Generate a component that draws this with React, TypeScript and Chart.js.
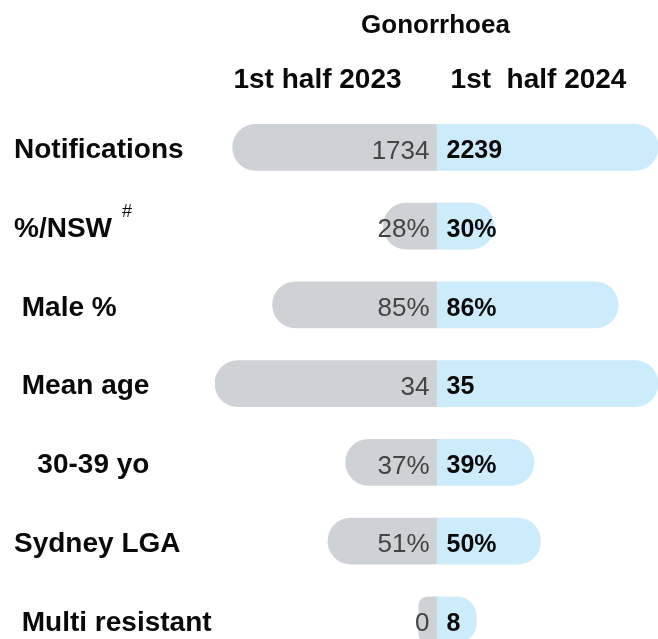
import React, { useEffect, useRef } from 'react';
import { Chart, registerables } from 'chart.js';

Chart.register(...registerables);

// ---- data ----
const chartTitle = 'Gonorrhoea';
const periods = ['1st half 2023', '1st  half 2024'];
const categories = [
  'Notifications',
  '%/NSW',
  ' Male %',
  ' Mean age',
  '   30-39 yo',
  'Sydney LGA',
  ' Multi resistant',
];
const values2023 = [1734, 28, 85, 34, 37, 51, 0];
const values2024 = [2239, 30, 86, 35, 39, 50, 8];
const units = ['', '%', '%', '', '%', '%', ''];
// relative bar lengths as drawn in the infographic (percent of each half)
const barLength2023 = [92, 24, 74, 100, 41, 49, 8];
const barLength2024 = [100, 26, 82, 100, 44, 47, 18];
const footnoteRow = 1;
const footnoteMark = '#';

// ---- styles ----
const FONT = '"Liberation Sans", Arial, sans-serif';
const GRAY = 'rgb(206,210,214)';
const BLUE = 'rgb(204,236,252)';
const LABEL_SIZE = 28;

const labelsPlugin = {
  id: 'valueLabels',
  afterDatasetsDraw(chart: any) {
    const ctx = chart.ctx;
    ctx.save();
    ctx.textBaseline = 'middle';
    const m0 = chart.getDatasetMeta(0);
    const m1 = chart.getDatasetMeta(1);
    m0.data.forEach((el: any, i: number) => {
      const p = el.getProps(['x', 'y', 'base'], true);
      ctx.font = `normal 26px ${FONT}`;
      ctx.fillStyle = '#444444';
      ctx.textAlign = 'right';
      ctx.fillText(`${values2023[i]}${units[i]}`, p.base - 7, p.y + 4);
    });
    m1.data.forEach((el: any, i: number) => {
      const p = el.getProps(['x', 'y', 'base'], true);
      ctx.font = `bold 25px ${FONT}`;
      ctx.fillStyle = '#0a0a0a';
      ctx.textAlign = 'left';
      ctx.fillText(`${values2024[i]}${units[i]}`, p.base + 10, p.y + 4);
    });
    ctx.restore();
  },
};

const headerPlugin = {
  id: 'header',
  afterDraw(chart: any) {
    const ctx = chart.ctx;
    const xs = chart.scales.x;
    const ys = chart.scales.y;
    const zero = xs.getPixelForValue(0);
    ctx.save();
    ctx.fillStyle = '#0a0a0a';
    ctx.textBaseline = 'alphabetic';
    ctx.textAlign = 'center';
    ctx.font = `bold 26px ${FONT}`;
    ctx.fillText(chartTitle, zero - 1, 33);
    ctx.font = `bold 28px ${FONT}`;
    ctx.fillText(periods[0], zero - 119, 88);
    ctx.fillText(periods[1], zero + 102, 88);
    // footnote mark
    ctx.font = `bold ${LABEL_SIZE}px ${FONT}`;
    const w = ctx.measureText(categories[footnoteRow]).width;
    ctx.font = `normal 18px ${FONT}`;
    ctx.textAlign = 'left';
    ctx.textBaseline = 'middle';
    ctx.fillText(footnoteMark, ys.left + w + 10, ys.getPixelForValue(footnoteRow) - 14);
    ctx.restore();
  },
};

export default function App() {
  const ref = useRef<HTMLCanvasElement | null>(null);

  useEffect(() => {
    if (!ref.current) return;
    const chart = new Chart(ref.current, {
      type: 'bar',
      data: {
        labels: categories,
        datasets: [
          {
            label: periods[0],
            data: barLength2023.map((v) => -v),
            backgroundColor: GRAY,
            borderSkipped: 'start',
            borderRadius: 23,
            barThickness: 46,
          },
          {
            label: periods[1],
            data: barLength2024,
            backgroundColor: BLUE,
            borderSkipped: 'start',
            borderRadius: 23,
            barThickness: 46,
          },
        ],
      },
      options: {
        indexAxis: 'y',
        responsive: false,
        maintainAspectRatio: false,
        animation: false,
        layout: { padding: { top: 108, left: 14, right: 0, bottom: 0 } },
        plugins: {
          legend: { display: false },
          tooltip: { enabled: false },
          title: { display: false },
        },
        scales: {
          x: { display: false, min: -100, max: 100, stacked: true },
          y: {
            stacked: true,
            grid: { display: false, drawTicks: false },
            border: { display: false },
            ticks: {
              crossAlign: 'far',
              padding: 0,
              labelOffset: 3,
              color: '#0a0a0a',
              font: { family: FONT, size: LABEL_SIZE, weight: 'bold', lineHeight: 1.2 },
            },
            afterFit: (s: any) => {
              s.width = 201;
            },
          },
        },
      } as any,
      plugins: [labelsPlugin, headerPlugin],
    });
    return () => chart.destroy();
  }, []);

  return (
    <div
      style={{
        position: 'fixed',
        top: 0,
        left: 0,
        width: 658,
        height: 639,
        overflow: 'hidden',
        background: '#fff',
      }}
    >
      <canvas
        ref={ref}
        width={658}
        height={676}
        style={{ position: 'absolute', top: 0, left: 0, width: 658, height: 676 }}
      />
    </div>
  );
}
